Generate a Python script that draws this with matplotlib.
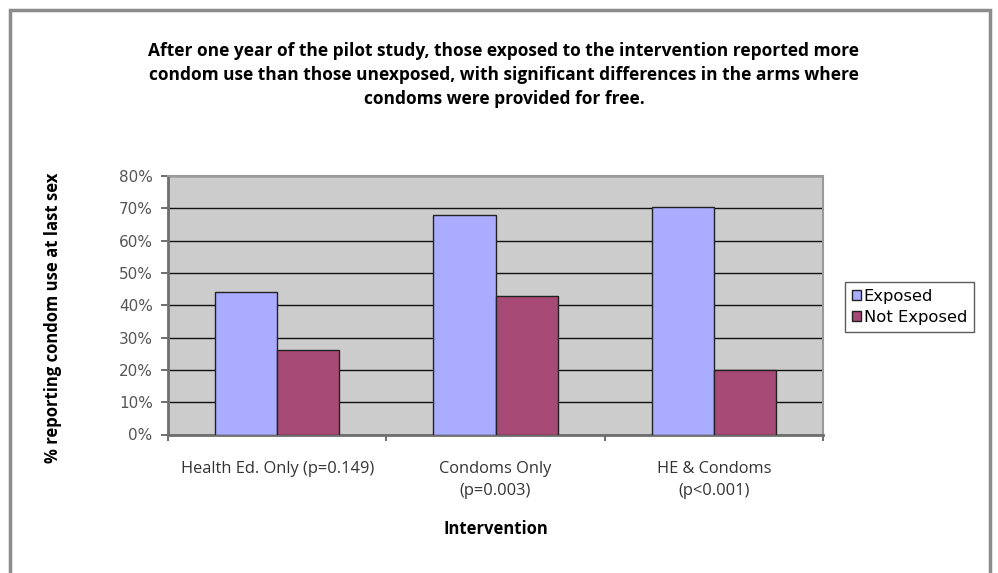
import numpy as np
import matplotlib.pyplot as plt
from matplotlib.patches import Rectangle
from matplotlib.ticker import FuncFormatter

categories = ['Health Ed. Only (p=0.149)', 'Condoms Only\n(p=0.003)', 'HE & Condoms\n(p<0.001)']
exposed = [44, 68, 70.5]
not_exposed = [26, 43, 20]
series_names = ['Exposed', 'Not Exposed']
yticks = [0, 10, 20, 30, 40, 50, 60, 70, 80]

title = ('After one year of the pilot study, those exposed to the intervention reported more\n'
         'condom use than those unexposed, with significant differences in the arms where\n'
         'condoms were provided for free.')

fig = plt.figure(figsize=(9.98, 5.73), dpi=100)
fig.patch.set_facecolor('white')

# outer chart border (bottom runs off the picture)
fig.add_artist(Rectangle((10 / 998, -0.05), 980 / 998, 1.05 - 10 / 573,
                         transform=fig.transFigure, fill=False,
                         edgecolor='#8c8c8c', linewidth=2.5))

ax = fig.add_axes([168 / 998, 1 - 434.5 / 573, (823 - 168) / 998, (434.5 - 176) / 573])
ax.set_facecolor('#cccccc')

x = np.arange(len(categories))
w = 0.285
ax.bar(x - w / 2, exposed, w, color='#aaacff', edgecolor='#222222', linewidth=1, label=series_names[0], zorder=3)
ax.bar(x + w / 2, not_exposed, w, color='#a84a76', edgecolor='#222222', linewidth=1, label=series_names[1], zorder=3)

ax.set_xlim(-0.5, 2.5)
ax.set_ylim(0, 80)
ax.set_yticks(yticks)
ax.yaxis.set_major_formatter(FuncFormatter(lambda v, p: f'{v:.0f}%'))
ax.grid(axis='y', color='#111111', linewidth=1, zorder=1)
ax.set_axisbelow(True)

ax.set_xticks(x)
ax.set_xticklabels(categories, fontsize=11.8, family='Open Sans', color='#333333', linespacing=1.5)
ax.set_xticks([-0.5, 0.5, 1.5, 2.5], minor=True)
ax.tick_params(axis='x', which='major', length=0, pad=19)
ax.tick_params(axis='x', which='minor', length=4, width=1.2, color='#555555', direction='out')
ax.tick_params(axis='y', length=5, width=1.2, color='#555555', direction='out',
               labelsize=11, labelcolor='#555555', pad=6)
for lbl in ax.get_yticklabels():
    lbl.set_family('DejaVu Sans')

for side in ['top', 'right']:
    ax.spines[side].set_color('#999999')
    ax.spines[side].set_linewidth(1.5)
for side in ['left', 'bottom']:
    ax.spines[side].set_color('#6e6e6e')
    ax.spines[side].set_linewidth(2)

ax.set_xlabel('Intervention', fontsize=12, fontweight='bold', family='Open Sans', labelpad=15)
fig.text(53 / 998, 1 - 318 / 573, '% reporting condom use at last sex', rotation=90,
         ha='center', va='center', fontsize=12, fontweight='bold', family='Open Sans')

fig.text(504 / 998, 1 - 75 / 573, title, ha='center', va='center', fontsize=12.5,
         fontweight='bold', family='Open Sans', linespacing=1.4)

leg = fig.legend(loc='center', bbox_to_anchor=(909.5 / 998, 1 - 307 / 573),
                 prop={'family': 'DejaVu Sans', 'size': 11.8},
                 frameon=True, fancybox=False, edgecolor='#333333',
                 handlelength=0.55, handleheight=0.55, handletextpad=0.15,
                 borderpad=0.45, labelspacing=0.35)
leg.get_frame().set_linewidth(1)

fig.savefig('out.png', dpi=100)
